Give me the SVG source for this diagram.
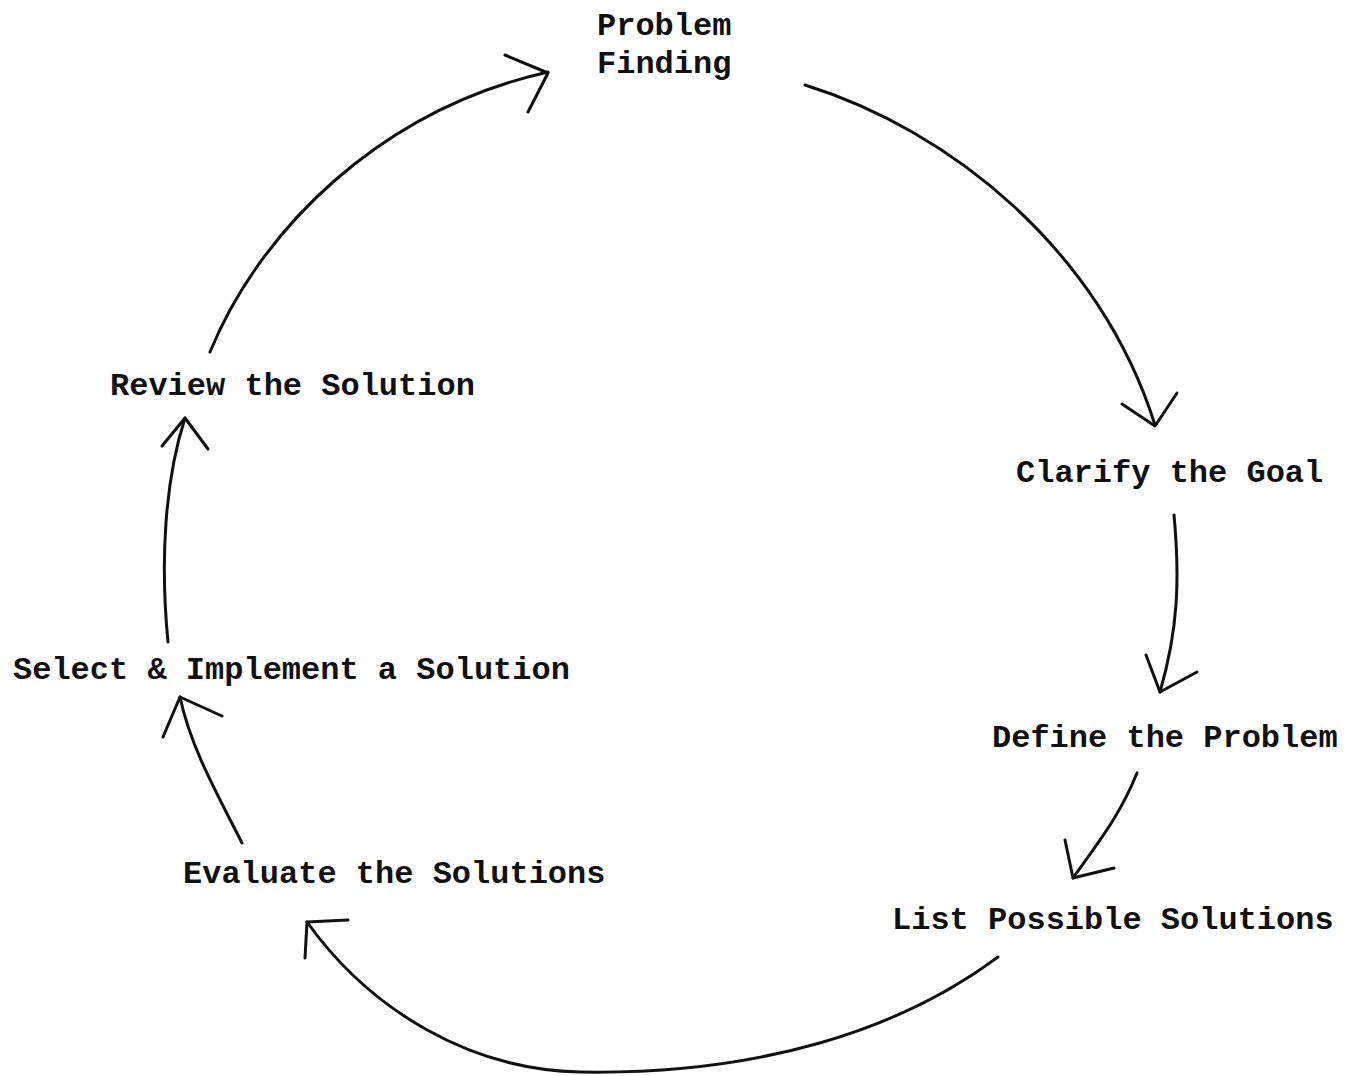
<svg xmlns="http://www.w3.org/2000/svg" width="1352" height="1076" viewBox="0 0 1352 1076">
<style>
.lbl{font-family:"Liberation Mono","Courier New",monospace;font-size:32px;font-weight:bold;fill:#111}
.c{fill:none;stroke:#111;stroke-width:3;stroke-linecap:round;stroke-linejoin:round}
</style>
<rect width="1352" height="1076" fill="#fff"/>
<g id="nodes">
<g id="problem-finding"><text class="lbl" x="597" y="35">Problem</text><text class="lbl" x="597" y="73">Finding</text></g>
<g id="clarify"><text class="lbl" x="1016" y="482">Clarify the Goal</text></g>
<g id="define"><text class="lbl" x="992" y="747">Define the Problem</text></g>
<g id="list"><text class="lbl" x="892" y="929">List Possible Solutions</text></g>
<g id="evaluate"><text class="lbl" x="183" y="883">Evaluate the Solutions</text></g>
<g id="select"><text class="lbl" x="13" y="679">Select &amp; Implement a Solution</text></g>
<g id="review"><text class="lbl" x="110" y="395">Review the Solution</text></g>
</g>
<g id="connectors">
<path class="c" d="M210,352 C260,230 380,110 548,72"/>
<polyline class="c" points="505,55 548,73 528,112"/>
<path class="c" d="M805,85 C950,130 1100,250 1155,425"/>
<polyline class="c" points="1122,404 1155,426 1177,393"/>
<path class="c" d="M1174,515 C1180,580 1178,630 1160,692"/>
<polyline class="c" points="1146,655 1160,692 1197,672"/>
<path class="c" d="M1137,773 C1120,815 1100,840 1073,878"/>
<polyline class="c" points="1065,840 1073,878 1114,868"/>
<path class="c" d="M998,957 C900,1030 760,1075 580,1072 C470,1070 370,1010 307,922"/>
<polyline class="c" points="348,920 307,922 305,958"/>
<path class="c" d="M242,843 C215,790 190,745 180,697"/>
<polyline class="c" points="163,737 180,697 222,716"/>
<path class="c" d="M168,642 C160,560 165,480 185,418"/>
<polyline class="c" points="162,446 185,418 208,449"/>
</g>
</svg>
